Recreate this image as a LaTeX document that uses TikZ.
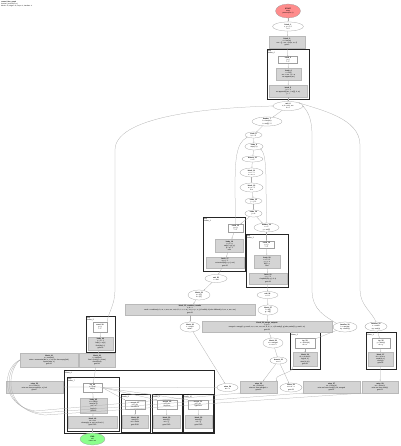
\documentclass[tikz,border=0pt]{standalone}
\usepackage{fontspec}
\setmainfont{Liberation Sans}
\usetikzlibrary{shapes.geometric,arrows.meta}
\newcommand\fsz{\fontsize{1.75}{2.05}\selectfont}
\tikzset{
  sz/.style 2 args={minimum width=#1pt, minimum height=#2pt},
  ell/.style={ellipse, draw=gray!75, line width=0.25pt, fill=white, inner sep=0pt, font=\fsz, align=center},
  wbox/.style={rectangle, draw=gray!75, line width=0.25pt, fill=white, inner sep=0pt, font=\fsz, align=center},
  gbox/.style={rectangle, draw=gray!55, line width=0.25pt, fill=black!17, inner sep=0pt, font=\fsz, align=center},
  clus/.style={draw=black!85, line width=0.8pt},
  clab/.style={anchor=north west, inner sep=0.6pt, font=\fsz, align=left},
  edge/.style={draw=gray!65, line width=0.25pt, -{Stealth[length=1.2pt,width=0.9pt]}},
}
\begin{document}
\begin{tikzpicture}[x=1pt,y=-1pt]
\useasboundingbox[fill=white] (0,0) rectangle (400,446);
% title
\node[anchor=north west, inner sep=0pt, font=\fontsize{1.6}{1.9}\selectfont, align=left] (title) at (1,1)
  {\textbf{control\_flow\_graph}\\ function: process(xs, n)\\ blocks: 52, edges: 61, loops: 6, handlers: 4};
% clusters
\draw[clus] (267,49) rectangle (309,99);
\node[clab] (c0) at (267,49) {loop\\ cluster\_0};
\draw[clus] (203,217) rectangle (245,271);
\node[clab] (c1) at (203,217) {loop\\ cluster\_1};
\draw[clus] (246,234) rectangle (288,287);
\node[clab] (c2) at (246,234) {loop\\ cluster\_2};
\draw[clus] (290,332) rectangle (320,369);
\node[clab] (c3) at (290,332) {try\\ cluster\_3};
\draw[clus] (366,332) rectangle (396,369);
\node[clab] (c4) at (366,332) {try\\ cluster\_4};
\draw[clus] (86,316) rectangle (115,352);
\node[clab] (c5) at (86,316) {loop\\ cluster\_5};
\draw[clus] (64,370) rectangle (214,433);
\node[clab] (c6) at (64,370) {try\\ cluster\_6};
\draw[clus] (67,377) rectangle (119,431);
\node[clab] (c7) at (67,377) {body\\ cluster\_7};
\draw[clus] (121,394) rectangle (150,432);
\node[clab] (c8) at (121,394) {except\\ cluster\_8};
\draw[clus] (152,394) rectangle (182,432);
\node[clab] (c9) at (152,394) {except\\ cluster\_9};
\draw[clus] (183,394) rectangle (213,432);
\node[clab] (c10) at (183,394) {except\\ cluster\_10};
% nodes: top chain
\node[ell, sz={25}{14}, fill=red!45] (A) at (288,11) {\textbf{START}\\ entry\\ process(xs, n)};
\node[ell, sz={31}{9}] (B) at (288,26.5) {\textbf{block\_1}\\ x, y = 0, 0\\ i = 0};
\node[gbox, sz={36}{12}] (C) at (287,42) {\textbf{block\_2}\\ n = len(xs)\\ res = [] ; acc = init(n, xs, 0)\\ goto 3};
\node[wbox, sz={19}{7}] (D) at (288,60) {\textbf{cond\_3}\\ i \textless{} n\\ T / F};
\node[gbox, sz={25}{12}] (E) at (288.5,74) {\textbf{body\_4}\\ v = xs[i]\\ acc = acc + v * w\\ res.append(acc)};
\node[gbox, sz={38}{12}] (F) at (288,91) {\textbf{latch\_5}\\ i = i + 1\\ res.append(f(acc, i, xs[i]), k, w)\\ j = i};
\node[ell, sz={30}{9}] (G) at (288,106) {\textbf{exit\_6}\\ a, b = acc, res\\ k = 0};
\node[ell, sz={30}{9}] (H) at (267,121.5) {\textbf{header\_7}\\ k \textless{} len(res)\\ t = res[k] * 2};
\node[ell, sz={17}{6}] (I) at (253.5,135) {\textbf{node\_8}\\ k, t = 0};
\node[ell, sz={18}{7}] (J) at (254,146.5) {\textbf{node\_9}\\ cmp(t, k)};
\node[ell, sz={21}{6}] (K) at (252.5,159) {\textbf{branch\_10}\\ t \textgreater{} 0};
\node[ell, sz={23}{9}] (L) at (251.5,172.5) {\textbf{block\_11}\\ u = t - 1\\ s = s + u};
\node[ell, sz={23}{9}] (M) at (251.5,187.5) {\textbf{block\_12}\\ w = s / 2\\ if w};
\node[ell, sz={17}{6}] (N) at (253.5,201) {\textbf{node\_13}\\ j = j + 1};
\node[ell, sz={17}{7}] (O) at (253.5,213.5) {\textbf{node\_14}\\ j \textless{} m};
% cluster 1
\node[wbox, sz={15}{8}] (P) at (235.5,228) {\textbf{cond\_15}\\ p \textless{} q\\ T / F};
\node[gbox, sz={28}{13}] (Q) at (229.5,245.5) {\textbf{body\_16}\\ r = p * q\\ out[p] = g(r, p)\\ p = p + 1\\ cont};
\node[gbox, sz={38}{11}] (R) at (225,262.5) {\textbf{latch\_17}\\ q = q - 1\\ out.extend(h(p, q, r), out)\\ goto 15};
% cluster 2
\node[ell, sz={25}{9}] (S) at (266.5,227.5) {\textbf{header\_18}\\ z = 0\\ y = out[0]};
\node[wbox, sz={15}{7}] (T) at (266.5,244.5) {\textbf{cond\_19}\\ z \textless{} y\\ T / F};
\node[gbox, sz={26}{13}] (U) at (267,261.5) {\textbf{body\_20}\\ z = z + 1\\ y = y - z\\ d[z] = y\\ cont};
\node[gbox, sz={38}{11}] (V) at (268,278.5) {\textbf{latch\_21}\\ y = y * 2\\ d.update(k(z, y), d, z)\\ goto 19};
% middle
\node[ell, sz={22}{8}] (W) at (216,278.5) {\textbf{exit\_22}\\ r = out};
\node[ell, sz={22}{10}] (X) at (199,295) {\textbf{block\_23}\\ a = r[0]\\ b = r[1]};
\node[ell, sz={21}{7}] (Y) at (267.5,295) {\textbf{exit\_24}\\ e = d};
\node[gbox, sz={130}{11}] (Z1) at (190,309.5) {\textbf{block\_25\_combine\_results}\\ a, b = r\\ result = combine(a, b, xs, n, acc, res, out, d, k, t, s, u, w, j, m, p, q, r, z, y) if valid(a, b) else fallback(a, b, xs, n, acc, res)\\ goto 26};
\node[ell, sz={20}{10}] (AA) at (268,310) {\textbf{block\_27}\\ f = e[0]\\ g = e[1]};
\node[ell, sz={20}{10}] (AB) at (190,327) {\textbf{block\_26}\\ c = result\\ raise?};
\node[gbox, sz={130}{11}] (Z2) at (267,326.5) {\textbf{block\_28\_merge\_outputs}\\ f, g = e\\ merged = merge(f, g, result, xs, n, acc, res, out, d, k, t, s, u) if ready(f, g) else partial(f, g, result, xs)\\ goto 29};
\node[ell, sz={24}{10}] (AC) at (345,327) {\textbf{handler\_30}\\ h = merged\\ try: check(h)};
\node[ell, sz={22}{9}] (AD) at (376,326.5) {\textbf{handler\_31}\\ v = result\\ try: emit(v)};
\node[ell, sz={20}{10}] (AE) at (273,343) {\textbf{block\_29}\\ m = merged\\ n = m + 1};
\node[ell, sz={17}{7}] (AF) at (278.5,360.5) {\textbf{branch\_32}\\ m \textgreater{} n};
% clusters 3,4
\node[wbox, sz={20}{10}] (AG) at (305,343) {\textbf{try\_33}\\ x = check(h)\\ ok = x};
\node[gbox, sz={24}{14}] (AH) at (305,359.5) {\textbf{block\_34}\\ ok = ok and h\\ log(ok, h)\\ store(h, ok)\\ goto 36};
\node[wbox, sz={18}{10}] (AI) at (381,343) {\textbf{try\_35}\\ y = emit(v)\\ ok = y};
\node[gbox, sz={25}{14}] (AJ) at (380.5,359) {\textbf{block\_37}\\ ok = ok or v\\ send(ok, v)\\ close(v)\\ goto 38};
% cluster 5
\node[wbox, sz={14}{10}] (AK) at (100,327) {\textbf{cond\_39}\\ c \textless{} n\\ T / F};
\node[gbox, sz={25}{13}] (AL) at (100.5,343.5) {\textbf{body\_40}\\ c = c + 1\\ buf[c] = xs[c]\\ flush(buf, c)\\ goto 39};
\node[gbox, sz={58}{14}] (AM) at (49,360) {\textbf{block\_41}\\ s = sum(buf)\\ stats = summarize(buf, s, n, xs) if s else empty(buf)\\ report(stats, s)\\ goto 42};
\node[gbox, sz={36}{14}] (AN) at (97,360) {\textbf{block\_43}\\ t = total(buf)\\ final = finish(t, s, stats)\\ check(final)\\ goto 44};
% cluster 6/7
\node[wbox, sz={19}{9}] (AO) at (92.5,387.5) {\textbf{try\_44}\\ q = final\\ call(q)};
\node[gbox, sz={27}{15}] (AP) at (93.5,405.5) {\textbf{body\_45}\\ w = call(q)\\ save(w, q)\\ out = w\\ log(out)\\ goto 46};
\node[gbox, sz={49}{12}] (AQ) at (92.5,422) {\textbf{block\_46}\\ ret = out\\ cleanup(q, w, out, ret, final, t)\\ goto END};
\node[wbox, sz={20}{9}] (AR) at (135,404.5) {\textbf{except\_47}\\ e1 = err\\ ValueError};
\node[gbox, sz={26}{13}] (AS) at (135,421.5) {\textbf{block\_48}\\ warn(e1)\\ ret = None\\ goto END};
\node[wbox, sz={20}{9}] (AT) at (167,404.5) {\textbf{except\_49}\\ e2 = err\\ KeyError};
\node[gbox, sz={27}{13}] (AU) at (166.5,421.5) {\textbf{block\_50}\\ warn(e2)\\ ret = \{\}\\ goto END};
\node[wbox, sz={20}{9}] (AV) at (198,404.5) {\textbf{except\_51}\\ e3 = err\\ TypeError};
\node[gbox, sz={27}{13}] (AW) at (198.5,421.5) {\textbf{block\_52}\\ warn(e3)\\ ret = []\\ goto END};
\node[ell, sz={25}{12}, fill=green!45] (AX) at (92.5,439) {\textbf{END}\\ exit\\ return ret};
% bottom row
\node[gbox, sz={57}{12}] (AY) at (34.5,387) {\textbf{raise\_53}\\ err = Error(c)\\ raise err from process(xs, n), buf\\ goto 47};
\node[ell, sz={21}{8}] (AZ) at (227.5,387.5) {\textbf{raise\_54}\\ err = c};
\node[gbox, sz={37}{12}] (BA) at (258.5,387) {\textbf{raise\_55}\\ err = Error(m)\\ raise err from merged, n\\ goto 49};
\node[ell, sz={22}{9}] (BB) at (291,387.5) {\textbf{block\_56}\\ m = m - n\\ goto 29};
\node[gbox, sz={57}{12}] (BC) at (331.5,387) {\textbf{raise\_57}\\ err = Error(h)\\ raise err from check(h), ok, merged\\ goto 51};
\node[gbox, sz={36}{12}] (BD) at (380,387) {\textbf{raise\_58}\\ err = Error(v)\\ raise err from emit(v)\\ goto 51};
% edges: main chain
\draw[edge] (A) -- (B);
\draw[edge] (B) -- (C);
\draw[edge] (C) -- (D);
\draw[edge] (D) -- (E);
\draw[edge] (E) -- (F);
\draw[edge] (F) -- (G);
\draw[edge] (G) -- (H);
\draw[edge] (H) -- (I);
\draw[edge] (I) -- (J);
\draw[edge] (J) -- (K);
\draw[edge] (K) -- (L);
\draw[edge] (L) -- (M);
\draw[edge] (M) -- (N);
\draw[edge] (N) -- (O);
\draw[edge] (O) -- (P);
\draw[edge] (O) -- (S);
\draw[edge] (P) -- (Q);
\draw[edge] (Q) -- (R);
\draw[edge] (R) -- (W);
\draw[edge] (W) -- (X);
\draw[edge] (X) -- (Z1);
\draw[edge] (Z1) -- (AB);
\draw[edge] (AB) -- (AZ);
\draw[edge] (S) -- (T);
\draw[edge] (T) -- (U);
\draw[edge] (U) -- (V);
\draw[edge] (V) -- (Y);
\draw[edge] (Y) -- (AA);
\draw[edge] (AA) -- (Z2);
\draw[edge] (Z2) -- (AE);
\draw[edge] (AE) -- (AF);
\draw[edge] (AF) -- (BA);
\draw[edge] (AF) -- (BB);
% back edges
\draw[edge] (P.north) -- (235,190) .. controls (235,160) and (236,143) .. (I.south west);
\draw[edge] (S.north) -- (266,185) .. controls (266,165) and (265,153) .. (J.south east);
\draw[edge] (AK.north east) .. controls (108,313) and (115,305) .. (115,290) -- (115,150) .. controls (115,118) and (200,108) .. (G.west);
\draw[edge] (AC.north west) .. controls (325,316) and (312,310) .. (312,290) -- (312,135) .. controls (312,116) and (306,110) .. (G.east);
\draw[edge] (AD.north) .. controls (372,312) and (360,305) .. (360,290) -- (360,145) .. controls (360,118) and (320,110) .. (G.north east);
% lower clusters
\draw[edge] (AC) -- (AG);
\draw[edge] (AD) -- (AI);
\draw[edge] (AG) -- (AH);
\draw[edge] (AI) -- (AJ);
\draw[edge] (AJ) -- (BD);
\draw[edge] (AH.south west) .. controls (295,373) and (272,375) .. (BA.north east);
\draw[edge] (AK) -- (AL);
\draw[edge] (AL) -- (AN);
\draw[edge] (AN) -- (AO);
\draw[edge] (AO) -- (AP);
\draw[edge] (AP) -- (AQ);
\draw[edge] (AQ) -- (AX);
\draw[edge] (AO.east) -- (AR.north west);
\draw[edge] (AO.east) -- (AT.north west);
\draw[edge] (AO.east) -- (AV.north west);
\draw[edge] (AR) -- (AS);
\draw[edge] (AT) -- (AU);
\draw[edge] (AV) -- (AW);
\draw[edge] (AZ.west) -- (AY.east);
\draw[edge] (AM.west) .. controls (2,368) and (0,405) .. (35,411) -- (BA.south west);
\draw[edge] (AM.west) .. controls (4,370) and (2,408) .. (40,413) -- (BC.south west);
\draw[edge] (AM.west) .. controls (6,372) and (4,411) .. (45,415) -- (BD.south west);
\end{tikzpicture}
\end{document}
